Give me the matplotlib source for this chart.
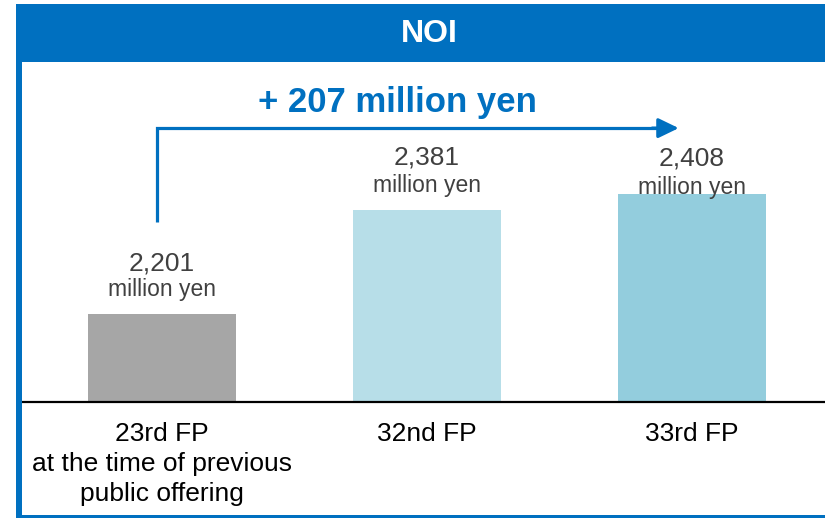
import matplotlib.pyplot as plt
from matplotlib.patches import Rectangle

# canvas size in pixels
W, H = 825, 518

title = "NOI"
categories = ["23rd FP\nat the time of previous\npublic offering", "32nd FP", "33rd FP"]
noi_values = [2201, 2381, 2408]
unit_label = "million yen"

bar_colors = ["#A6A6A6", "#B7DEE8", "#93CDDD"]
BLUE = "#0070C0"
TEXT_GREY = "#404040"

plt.rcParams["font.family"] = ["Liberation Sans", "DejaVu Sans"]

fig = plt.figure(figsize=(W / 100, H / 100), dpi=100)


def fx(x):
    return x / W


def fy(y):
    return 1 - y / H


# blue frame: header bar, left border and bottom border
fig.patches.append(Rectangle((fx(16), fy(62)), fx(825) - fx(16), fy(4) - fy(62),
                             transform=fig.transFigure, color=BLUE, lw=0))
fig.patches.append(Rectangle((fx(16), fy(516)), fx(22) - fx(16), fy(62) - fy(516),
                             transform=fig.transFigure, color=BLUE, lw=0))
fig.patches.append(Rectangle((fx(16), fy(518)), fx(825) - fx(16), fy(515) - fy(518),
                             transform=fig.transFigure, color=BLUE, lw=0))
fig.text(fx(429), fy(34), title, color="white", fontsize=23, fontweight="bold",
         ha="center", va="center")

ax = fig.add_axes([fx(22), fy(402), fx(825) - fx(22), fy(65) - fy(402)])
x = list(range(len(categories)))
ax.bar(x, noi_values, width=0.5585, color=bar_colors)
ax.set_xlim(-0.528, 2.502)
ax.set_ylim(2049, 2631)

for s in ["top", "right", "left"]:
    ax.spines[s].set_visible(False)
ax.spines["bottom"].set_color("black")
ax.spines["bottom"].set_linewidth(1.6)
ax.set_xticks([])
ax.set_yticks([])
ax.patch.set_visible(False)

# value labels above bars (the last one sits lower, overlapping its bar)
num_offsets = [50, 52, 36]
unit_offsets = [24, 24, 7]
for i, v in enumerate(noi_values):
    ax.annotate(f"{v:,}", xy=(i, v), xytext=(0, num_offsets[i]), textcoords="offset pixels",
                ha="center", va="center", fontsize=19, color=TEXT_GREY)
    ax.annotate(unit_label, xy=(i, v), xytext=(0, unit_offsets[i]), textcoords="offset pixels",
                ha="center", va="center", fontsize=16.5, color=TEXT_GREY)

# category labels under the baseline
for i, c in enumerate(categories):
    ax.annotate(c, xy=(i, 2049), xytext=(0, -20), textcoords="offset pixels",
                ha="center", va="top", fontsize=19, color="black", linespacing=1.32,
                annotation_clip=False)

# increase arrow from first to last period
diff = noi_values[-1] - noi_values[0]
x0 = -0.02
x1 = len(categories) - 1 - 0.05
y_low = noi_values[1] - 21
y_top = noi_values[-1] + 114
ax.plot([x0, x0, x1 - 0.05], [y_low, y_top, y_top], color=BLUE, lw=2.3,
        solid_joinstyle="miter", solid_capstyle="butt", clip_on=False)
ax.annotate("", xy=(x1, y_top), xytext=(x1 - 0.1, y_top),
            arrowprops=dict(arrowstyle="-|>,head_length=0.62,head_width=0.3",
                            mutation_scale=20, color=BLUE, lw=2.3,
                            shrinkA=0, shrinkB=0))
ax.text(0.89, 2567, f"+ {diff} million yen", color=BLUE, fontsize=25,
        fontweight="bold", ha="center", va="center")

fig.savefig("out.png", dpi=100)
